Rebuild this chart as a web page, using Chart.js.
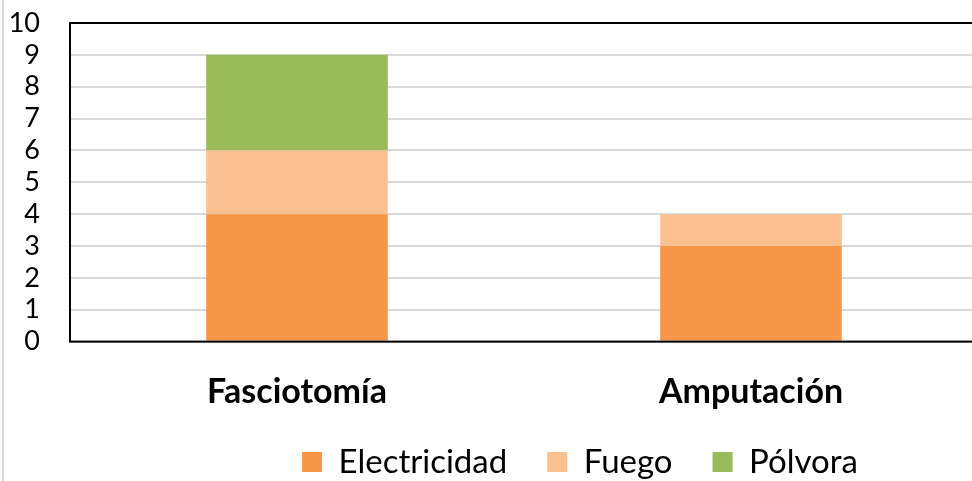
<!DOCTYPE html>
<html>
<head>
<meta charset="utf-8">
<script src="https://cdn.jsdelivr.net/npm/chart.js@4"></script>
<style>
  html, body { margin: 0; padding: 0; overflow: hidden; background: #fff; }
  #wrap { width: 980px; height: 481px; position: relative; }
</style>
</head>
<body>
<div id="wrap"><canvas id="chart"></canvas></div>
<script>
const categories = ["Fasciotomía", "Amputación"];
const electricidad = [4, 3];
const fuego = [2, 1];
const polvora = [3, 0];
const yTicks = [0, 1, 2, 3, 4, 5, 6, 7, 8, 9, 10];

const FONT = "Lato, 'Open Sans', sans-serif";

// frame round the plot area plus the thin outer edge on the left
const framePlugin = {
    id: "frame",
    beforeDraw(chart) {
        const ctx = chart.ctx;
        ctx.save();
        ctx.strokeStyle = "#d9d9d9";
        ctx.lineWidth = 2;
        ctx.beginPath();
        ctx.moveTo(3, 0);
        ctx.lineTo(3, chart.height);
        ctx.stroke();
        ctx.restore();
    },
    afterDatasetsDraw(chart) {
        const { left, top, right, bottom } = chart.chartArea;
        const ctx = chart.ctx;
        ctx.save();
        ctx.strokeStyle = "#000";
        ctx.lineWidth = 2;
        ctx.strokeRect(left, top, right - left, bottom - top);
        ctx.restore();
    },
};

// nudge the legend right and up under the category labels
const legendShift = {
    id: "legendShift",
    afterLayout(chart) {
        const lg = chart.legend;
        lg.left += 91;
        lg.right += 91;
        lg.top -= 26;
        lg.bottom -= 26;
    },
};

const ctx = document.getElementById("chart");

new Chart(ctx, {
    type: "bar",
    data: {
        labels: categories,
        datasets: [
            { label: "Electricidad", data: electricidad, backgroundColor: "#F79646" },
            { label: "Fuego", data: fuego, backgroundColor: "#FAC090" },
            { label: "Pólvora", data: polvora, backgroundColor: "#9BBB59" },
        ],
    },
    options: {
        responsive: true,
        maintainAspectRatio: false,
        animation: false,
        devicePixelRatio: 1,
        layout: { padding: { top: 23, right: 2, left: 0, bottom: -33.6 } },
        datasets: { bar: { barPercentage: 0.4, categoryPercentage: 1 } },
        plugins: {
            tooltip: { enabled: false },
            legend: {
                position: "bottom",
                labels: {
                    boxWidth: 20,
                    boxHeight: 20,
                    padding: 40,
                    color: "#000",
                    font: { family: FONT, size: 33 },
                },
            },
        },
        scales: {
            x: {
                stacked: true,
                grid: { display: false, drawTicks: false },
                border: { display: false },
                ticks: {
                    padding: 30,
                    color: "#000",
                    font: { family: FONT, size: 34, weight: "bold" },
                },
                afterFit(scale) {
                    scale.height = 90;
                    scale.paddingLeft = 0;
                    scale.paddingRight = 0;
                },
            },
            y: {
                stacked: true,
                min: 0,
                max: 10,
                grid: { color: "#d9d9d9", lineWidth: 2, drawTicks: false },
                border: { display: false },
                afterBuildTicks(scale) {
                    scale.ticks = yTicks.map(v => ({ value: v }));
                },
                ticks: {
                    autoSkip: false,
                    padding: 30,
                    color: "#000",
                    font: { family: FONT, size: 27 },
                },
                afterFit(scale) {
                    scale.width = 70;
                    scale.paddingTop = 0;
                    scale.paddingBottom = 0;
                },
            },
        },
    },
    plugins: [framePlugin, legendShift],
});
</script>
</body>
</html>
